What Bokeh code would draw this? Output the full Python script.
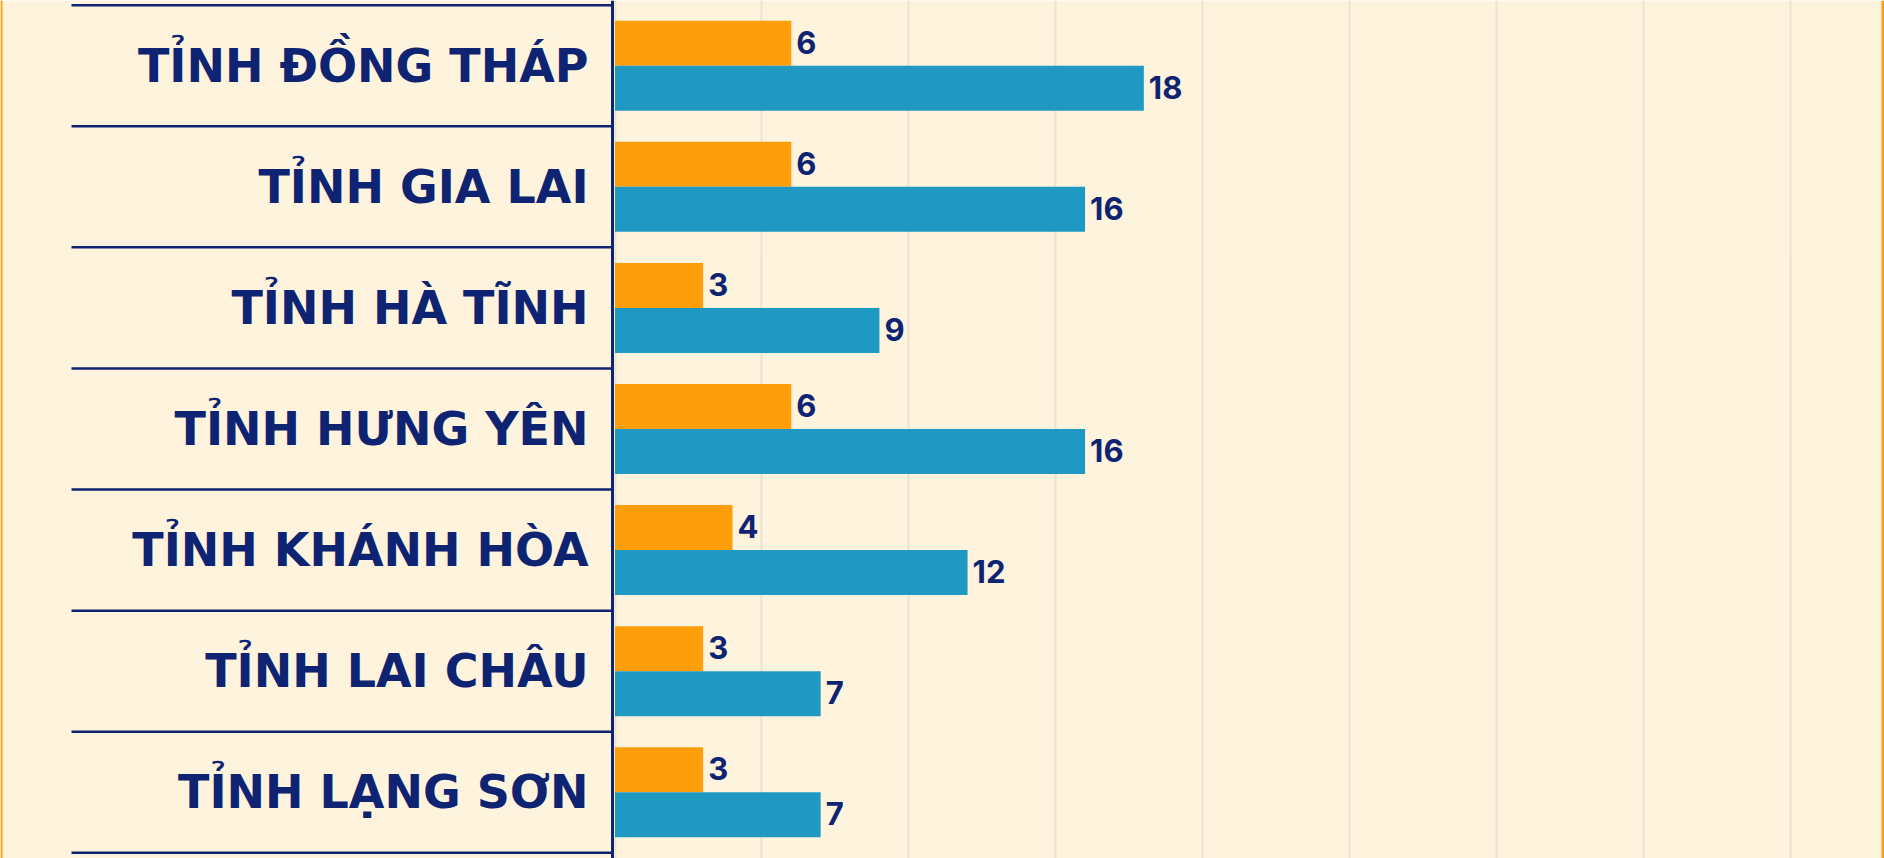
from bokeh.plotting import figure
from bokeh.models import ColumnDataSource, Range1d, Grid, FixedTicker, Span
from bokeh.transform import dodge
from bokeh.core.properties import value
from bokeh.embed import file_html
from bokeh.resources import INLINE

# ---- data ----
provinces = ["TỈNH ĐỒNG THÁP", "TỈNH GIA LAI", "TỈNH HÀ TĨNH", "TỈNH HƯNG YÊN",
             "TỈNH KHÁNH HÒA", "TỈNH LAI CHÂU", "TỈNH LẠNG SƠN"]
series_orange = [6, 6, 3, 6, 4, 3, 3]
series_blue = [18, 16, 9, 16, 12, 7, 7]
grid_ticks = [0, 5, 10, 15, 20, 25, 30, 35, 40]

# ---- styles ----
BG = "#FEF3DD"
NAVY = "#0E2371"
ORANGE = "#FF9E0B"
BLUE = "#1F99C2"
GRIDC = "#ECE2CE"
LABEL_FONT = "DejaVu Sans"
VALUE_FONT = "Inter"

W, H = 1884, 858
PX_PER_UNIT = 29.38
X0_PX = 614.5          # pixel position of value 0 inside the figure
ROW_PX = 121.1
ROW0_PX = 65.2         # pixel centre of the first row inside the figure

x_start = -X0_PX / PX_PER_UNIT
x_end = (W - X0_PX) / PX_PER_UNIT
y_top = -ROW0_PX / ROW_PX
y_bottom = (H - ROW0_PX) / ROW_PX

rows = list(range(len(provinces)))
src = ColumnDataSource(dict(y=rows, name=provinces,
                            a=series_orange, b=series_blue,
                            a_txt=[str(v) for v in series_orange],
                            b_txt=[str(v) for v in series_blue]))

p = figure(width=W, height=H, output_backend="svg", toolbar_location=None,
           x_range=Range1d(x_start, x_end), y_range=Range1d(y_bottom, y_top),
           x_axis_location=None, y_axis_location=None, min_border=0,
           background_fill_color=BG, border_fill_color=BG, outline_line_color=None)
p.xgrid.visible = False
p.ygrid.visible = False

grid = Grid(dimension=0, ticker=FixedTicker(ticks=grid_ticks),
            grid_line_color=GRIDC, grid_line_width=2)
p.add_layout(grid, "center")

bar_h = 45.0 / ROW_PX
p.hbar(y=dodge("y", -bar_h / 2, range=p.y_range), right="a", left=0, height=bar_h,
       source=src, fill_color=ORANGE, line_color=None)
p.hbar(y=dodge("y", bar_h / 2, range=p.y_range), right="b", left=0, height=bar_h,
       source=src, fill_color=BLUE, line_color=None)

# value labels
for col, txt, sign in (("a", "a_txt", -1), ("b", "b_txt", 1)):
    p.text(x=col, y=dodge("y", sign * bar_h / 2, range=p.y_range), text=txt, source=src,
           x_offset=5, y_offset=-1, text_align="left", text_baseline="middle",
           text_font=value(VALUE_FONT), text_font_style="bold", text_font_size="31px",
           text_color=NAVY)

# category labels
p.text(x=0, y="y", text="name", source=src, x_offset=-26.5, y_offset=0,
       text_align="right", text_baseline="middle",
       text_font=value(LABEL_FONT), text_font_style="bold", text_font_size="46px",
       text_color=NAVY)

# row separators
sep_y = [r + 0.5 for r in range(-1, len(provinces))]
sep_left = (71 - X0_PX) / PX_PER_UNIT
sep_right = -2.5 / PX_PER_UNIT
p.segment(x0=[sep_left] * len(sep_y), x1=[sep_right] * len(sep_y), y0=sep_y, y1=sep_y,
          line_color=NAVY, line_width=2.5)

# axis line
p.add_layout(Span(location=-2.5 / PX_PER_UNIT, dimension="height",
                  line_color=NAVY, line_width=3))

# orange side borders
p.add_layout(Span(location=x_start + 1.0 / PX_PER_UNIT, dimension="height",
                  line_color=ORANGE, line_width=2))
p.add_layout(Span(location=x_end - 1.5 / PX_PER_UNIT, dimension="height",
                  line_color=ORANGE, line_width=3))

open("out.html", "w").write(file_html(p, INLINE))
